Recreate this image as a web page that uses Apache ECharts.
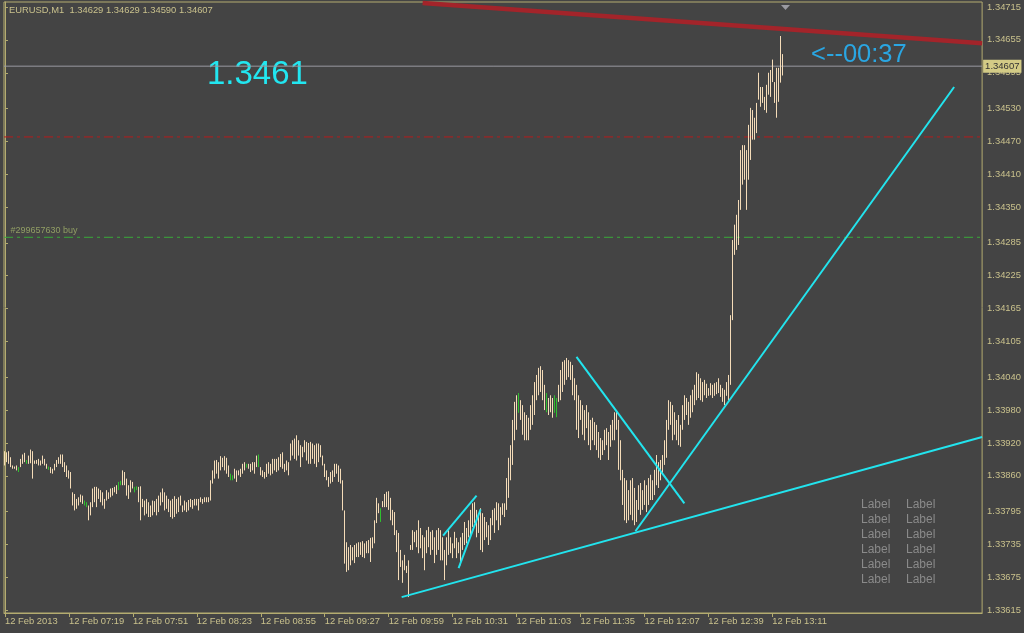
<!DOCTYPE html>
<html>
<head>
<meta charset="utf-8">
<script src="https://cdn.jsdelivr.net/npm/echarts@6/dist/echarts.min.js"></script>
<style>
html,body{margin:0;padding:0;background:#444444;}
#chart{width:1024px;height:633px;}
</style>
</head>
<body>
<div id="chart"></div>
<script>
// ---- data ----
const symbolTitle = 'EURUSD,M1  1.34629 1.34629 1.34590 1.34607';
const xTickIdx = [0, 32, 64, 96, 128, 160, 192, 224, 256, 288, 320, 352, 384];
const xTickLabels = ['12 Feb 2013', '12 Feb 07:19', '12 Feb 07:51', '12 Feb 08:23', '12 Feb 08:55', '12 Feb 09:27', '12 Feb 09:59', '12 Feb 10:31', '12 Feb 11:03', '12 Feb 11:35', '12 Feb 12:07', '12 Feb 12:39', '12 Feb 13:11'];
const yTicks = [1.33615, 1.33675, 1.33735, 1.33795, 1.33860, 1.33920, 1.33980, 1.34040, 1.34105, 1.34165, 1.34225, 1.34285, 1.34350, 1.34410, 1.34470, 1.34530, 1.34595, 1.34655, 1.34715];

const highs = [
1.33905,1.33903,1.33905,1.33894,1.33879,1.33877,1.33879,1.33876,1.33891,1.33899,
1.33902,1.33889,1.33897,1.33908,1.33905,1.33888,1.33889,1.33891,1.33888,1.33897,
1.33891,1.33882,1.33877,1.33876,1.33873,1.33882,1.33889,1.33894,1.33899,1.33899,
1.33885,1.33879,1.33870,1.33867,1.33830,1.33827,1.33818,1.33821,1.33826,1.33824,
1.33815,1.33812,1.33806,1.33812,1.33837,1.33840,1.33840,1.33837,1.33834,1.33830,
1.33818,1.33834,1.33830,1.33837,1.33838,1.33840,1.33843,1.33849,1.33851,1.33870,
1.33867,1.33855,1.33843,1.33852,1.33849,1.33840,1.33841,1.33840,1.33841,1.33818,
1.33815,1.33818,1.33812,1.33806,1.33815,1.33814,1.33818,1.33824,1.33830,1.33837,
1.33830,1.33824,1.33818,1.33815,1.33818,1.33823,1.33818,1.33821,1.33824,1.33806,
1.33815,1.33812,1.33816,1.33818,1.33816,1.33818,1.33818,1.33818,1.33821,1.33818,
1.33821,1.33821,1.33821,1.33852,1.33870,1.33888,1.33889,1.33885,1.33896,1.33893,
1.33896,1.33893,1.33879,1.33864,1.33861,1.33873,1.33870,1.33870,1.33873,1.33882,
1.33885,1.33882,1.33882,1.33882,1.33885,1.33885,1.33897,1.33899,1.33876,1.33870,
1.33867,1.33882,1.33885,1.33882,1.33891,1.33891,1.33891,1.33894,1.33900,1.33903,
1.33882,1.33888,1.33885,1.33919,1.33925,1.33928,1.33934,1.33925,1.33916,1.33913,
1.33925,1.33922,1.33920,1.33922,1.33919,1.33916,1.33919,1.33919,1.33916,1.33897,
1.33882,1.33870,1.33858,1.33867,1.33870,1.33882,1.33882,1.33879,1.33873,1.33852,
1.33797,1.33739,1.33730,1.33734,1.33730,1.33734,1.33737,1.33739,1.33739,1.33741,
1.33737,1.33741,1.33743,1.33747,1.33748,1.33779,1.33820,1.33810,1.33801,1.33814,
1.33827,1.33831,1.33832,1.33820,1.33798,1.33794,1.33761,1.33756,1.33725,1.33706,
1.33716,1.33696,1.33706,1.33734,1.33761,1.33758,1.33761,1.33779,1.33765,1.33752,
1.33748,1.33761,1.33767,1.33758,1.33761,1.33748,1.33761,1.33765,1.33761,1.33748,
1.33725,1.33748,1.33761,1.33748,1.33737,1.33758,1.33747,1.33739,1.33748,1.33756,
1.33776,1.33765,1.33779,1.33798,1.33810,1.33812,1.33798,1.33792,1.33801,1.33792,
1.33785,1.33776,1.33770,1.33783,1.33798,1.33801,1.33812,1.33810,1.33803,1.33810,
1.33810,1.33856,1.33893,1.33916,1.33962,1.33995,1.34007,1.34011,1.33998,1.33989,
1.33976,1.33971,1.33966,1.33989,1.34007,1.34031,1.34044,1.34057,1.34060,1.34053,
1.34026,1.34011,1.34002,1.34007,1.34002,1.34007,1.34002,1.34026,1.34053,1.34068,
1.34071,1.34075,1.34071,1.34068,1.34062,1.34038,1.34026,1.34007,1.33998,1.33989,
1.33980,1.33989,1.33976,1.33962,1.33966,1.33958,1.33953,1.33940,1.33929,1.33925,
1.33944,1.33947,1.33940,1.33953,1.33962,1.33976,1.33980,1.33962,1.33925,1.33871,
1.33856,1.33852,1.33834,1.33852,1.33856,1.33838,1.33816,1.33843,1.33847,1.33834,
1.33852,1.33843,1.33856,1.33862,1.33852,1.33871,1.33898,1.33885,1.33889,1.33898,
1.33925,1.33962,1.33998,1.33995,1.33989,1.33976,1.33962,1.33971,1.33953,1.33989,
1.34007,1.34002,1.33995,1.34007,1.34017,1.34026,1.34049,1.34046,1.34038,1.34031,
1.34035,1.34028,1.34020,1.34029,1.34026,1.34029,1.34031,1.34038,1.34026,1.34020,
1.34017,1.34031,1.34044,1.34153,1.34290,1.34318,1.34336,1.34363,1.34454,1.34463,
1.34463,1.34454,1.34500,1.34531,1.34527,1.34513,1.34540,1.34595,1.34569,1.34569,
1.34551,1.34573,1.34595,1.34600,1.34619,1.34578,1.34604,1.34604,1.34662,1.34629
];
const lows = [
1.33879,1.33885,1.33882,1.33876,1.33873,1.33873,1.33870,1.33867,1.33876,1.33882,
1.33885,1.33882,1.33882,1.33883,1.33855,1.33882,1.33882,1.33879,1.33879,1.33882,
1.33879,1.33873,1.33871,1.33865,1.33864,1.33870,1.33876,1.33882,1.33882,1.33876,
1.33867,1.33858,1.33855,1.33837,1.33806,1.33797,1.33800,1.33806,1.33812,1.33809,
1.33806,1.33803,1.33779,1.33788,1.33803,1.33812,1.33803,1.33818,1.33812,1.33806,
1.33800,1.33815,1.33818,1.33821,1.33824,1.33830,1.33827,1.33834,1.33843,1.33843,
1.33843,1.33824,1.33818,1.33830,1.33837,1.33830,1.33834,1.33812,1.33779,1.33803,
1.33788,1.33791,1.33785,1.33785,1.33788,1.33794,1.33788,1.33794,1.33806,1.33812,
1.33797,1.33800,1.33794,1.33785,1.33782,1.33785,1.33791,1.33794,1.33806,1.33794,
1.33797,1.33794,1.33797,1.33803,1.33800,1.33806,1.33806,1.33797,1.33812,1.33809,
1.33812,1.33812,1.33812,1.33815,1.33846,1.33855,1.33864,1.33855,1.33870,1.33876,
1.33870,1.33864,1.33858,1.33852,1.33852,1.33855,1.33849,1.33861,1.33858,1.33864,
1.33870,1.33875,1.33873,1.33867,1.33870,1.33864,1.33876,1.33876,1.33861,1.33858,
1.33855,1.33858,1.33864,1.33861,1.33864,1.33870,1.33867,1.33870,1.33876,1.33873,
1.33867,1.33870,1.33861,1.33888,1.33897,1.33891,1.33888,1.33897,1.33876,1.33894,
1.33903,1.33888,1.33882,1.33882,1.33891,1.33882,1.33876,1.33885,1.33894,1.33879,
1.33858,1.33852,1.33840,1.33846,1.33849,1.33858,1.33864,1.33849,1.33846,1.33797,
1.33700,1.33685,1.33688,1.33697,1.33706,1.33701,1.33712,1.33712,1.33716,1.33712,
1.33710,1.33719,1.33719,1.33703,1.33728,1.33737,1.33774,1.33792,1.33776,1.33803,
1.33803,1.33803,1.33798,1.33779,1.33770,1.33752,1.33721,1.33670,1.33694,1.33665,
1.33688,1.33683,1.33639,1.33725,1.33725,1.33739,1.33730,1.33719,1.33728,1.33710,
1.33688,1.33719,1.33730,1.33716,1.33725,1.33701,1.33716,1.33725,1.33706,1.33706,
1.33670,1.33697,1.33716,1.33719,1.33710,1.33728,1.33710,1.33719,1.33697,1.33725,
1.33734,1.33737,1.33748,1.33748,1.33767,1.33774,1.33748,1.33756,1.33725,1.33721,
1.33743,1.33748,1.33734,1.33743,1.33770,1.33756,1.33779,1.33761,1.33770,1.33789,
1.33785,1.33798,1.33820,1.33852,1.33880,1.33925,1.33944,1.33975,1.33962,1.33935,
1.33925,1.33925,1.33925,1.33944,1.33953,1.33971,1.33998,1.34007,1.34013,1.33998,
1.33980,1.33976,1.33971,1.33976,1.33966,1.33975,1.33967,1.33995,1.33998,1.34013,
1.34026,1.34035,1.34040,1.34035,1.34007,1.33998,1.33944,1.33929,1.33962,1.33935,
1.33925,1.33947,1.33916,1.33907,1.33925,1.33916,1.33907,1.33893,1.33889,1.33898,
1.33907,1.33916,1.33889,1.33913,1.33925,1.33925,1.33944,1.33871,1.33852,1.33807,
1.33779,1.33774,1.33779,1.33789,1.33779,1.33770,1.33776,1.33798,1.33789,1.33798,
1.33807,1.33794,1.33807,1.33816,1.33816,1.33825,1.33843,1.33838,1.33852,1.33862,
1.33880,1.33893,1.33944,1.33953,1.33925,1.33935,1.33925,1.33916,1.33913,1.33944,
1.33962,1.33971,1.33953,1.33966,1.33976,1.33989,1.33998,1.34002,1.33998,1.33995,
1.34007,1.34002,1.34006,1.34007,1.34002,1.34006,1.34009,1.34011,1.34004,1.33995,
1.33989,1.34006,1.33998,1.34026,1.34144,1.34263,1.34272,1.34281,1.34345,1.34391,
1.34400,1.34345,1.34400,1.34436,1.34473,1.34473,1.34485,1.34546,1.34533,1.34540,
1.34527,1.34522,1.34555,1.34551,1.34578,1.34540,1.34513,1.34542,1.34577,1.34590
];
// bars whose open equals close (drawn in the line-chart colour)
const dojiBars = [7, 11, 22, 40, 41, 57, 58, 65, 66, 113, 114, 121, 127, 188, 257, 271, 275, 276];

const currentPrice = 1.34607;
const orderPrice = 1.34295;
const orderLabel = '#299657630 buy';
const redLevel = 1.34478;
// trend lines: [barIndex, price] pairs
const redTrend = [[209, 1.34722], [489, 1.34649]];
const cyanLines = [
  [[198.5, 1.33639], [489, 1.33931]],
  [[315.5, 1.33759], [475, 1.34569]],
  [[286, 1.34077], [340, 1.33810]],
  [[219.25, 1.33751], [236, 1.33824]],
  [[227, 1.33692], [238, 1.33799]]
];
const bigPriceText = '1.3461';
const timerText = '<--00:37';
const labelGrid = ['Label', 'Label', 'Label', 'Label', 'Label', 'Label'];

// ---- chart ----
const BG = '#444444';
const AXIS = '#b4ac70';
const TXT = '#c9c18c';
const FONT = '"Liberation Sans", Arial, sans-serif';
const BAR_COLOR = '#f5dcb8';
const DOJI_COLOR = '#2fc02f';
const X_MIN = -0.5, X_MAX = 489;
const dojiSet = new Set(dojiBars);

// bars as [index, open, close, low, high]; the bar line runs from low to high
const barData = highs.map((h, i) => {
  const item = {value: [i, h, h, lows[i], h]};
  if (dojiSet.has(i)) {
    item.itemStyle = {color: DOJI_COLOR, color0: DOJI_COLOR, borderColor: DOJI_COLOR, borderColor0: DOJI_COLOR, borderColorDoji: DOJI_COLOR};
  }
  return item;
});

const chart = echarts.init(document.getElementById('chart'), null, {renderer: 'canvas'});

function hLine(price, color, type, extra) {
  return Object.assign({
    type: 'line',
    data: [[X_MIN, price], [X_MAX, price]],
    symbol: 'none',
    silent: true,
    clip: true,
    z: 3,
    emphasis: {disabled: true},
    lineStyle: {color: color, width: 1, type: type}
  }, extra || {});
}

const series = [
  hLine(redLevel, '#b51c1c', [9, 4, 3, 4]),
  hLine(orderPrice, '#3aaa3a', [9, 4, 3, 4]),
  hLine(currentPrice, '#9a9aa2', 'solid', {
    endLabel: {show: true, formatter: currentPrice.toFixed(5), color: '#333333', backgroundColor: '#d3cb86',
      fontSize: 9.5, fontFamily: FONT, padding: [2, 2, 1, 2], distance: 1}
  }),
  {
    type: 'scatter',
    data: [[2.5, orderPrice]],
    symbolSize: 1,
    itemStyle: {color: 'rgba(0,0,0,0)'},
    silent: true,
    z: 3,
    emphasis: {disabled: true},
    label: {show: true, position: 'right', distance: 0, offset: [0, -7], formatter: orderLabel,
      color: '#a4b46c', fontSize: 9, fontFamily: FONT}
  },
  {
    type: 'candlestick',
    data: barData,
    encode: {x: 0, y: [1, 2, 3, 4]},
    barWidth: 1,
    clip: true,
    silent: true,
    large: false,
    progressive: 0,
    z: 4,
    emphasis: {disabled: true},
    itemStyle: {color: BAR_COLOR, color0: BAR_COLOR, borderColor: BAR_COLOR, borderColor0: BAR_COLOR, borderColorDoji: BAR_COLOR, borderWidth: 1}
  },
  {
    type: 'line',
    data: redTrend,
    symbol: 'none',
    clip: true,
    silent: true,
    z: 5,
    emphasis: {disabled: true},
    lineStyle: {color: '#a3242a', width: 4.5}
  }
];
cyanLines.forEach(seg => {
  series.push({
    type: 'line', data: seg, symbol: 'none', clip: true, z: 6, silent: true,
    emphasis: {disabled: true},
    lineStyle: {color: '#22e4ee', width: 2}
  });
});

const graphics = [
  {type: 'text', left: 9, top: 6, style: {text: symbolTitle, fill: TXT, font: '9.4px ' + FONT}},
  {type: 'text', x: 207, y: 75, style: {text: bigPriceText, fill: '#22e6f0', font: '33px ' + FONT, verticalAlign: 'middle'}},
  {type: 'text', x: 811, y: 55, style: {text: timerText, fill: '#2aa6e2', font: '25.5px ' + FONT, verticalAlign: 'middle'}},
  {type: 'polygon', shape: {points: [[781, 5], [790, 5], [785.5, 10]]}, style: {fill: '#9a9aa0'}}
];
labelGrid.forEach((t, r) => {
  graphics.push({type: 'text', x: 861, y: 505 + r * 15, style: {text: t, fill: '#8a8a8a', font: '12px ' + FONT, verticalAlign: 'middle'}});
  graphics.push({type: 'text', x: 906, y: 505 + r * 15, style: {text: t, fill: '#8a8a8a', font: '12px ' + FONT, verticalAlign: 'middle'}});
});

chart.setOption({
  animation: false,
  backgroundColor: BG,
  grid: {left: 4, right: 41, top: 2, bottom: 20, show: true, borderColor: AXIS, borderWidth: 1, backgroundColor: BG},
  xAxis: {
    type: 'value', min: X_MIN, max: X_MAX,
    axisLine: {lineStyle: {color: AXIS}},
    splitLine: {show: false},
    axisTick: {show: true, customValues: xTickIdx, length: 4, lineStyle: {color: AXIS}},
    axisLabel: {customValues: xTickIdx, color: TXT, fontSize: 9.4, fontFamily: FONT, align: 'left', margin: 4,
      formatter: v => xTickLabels[xTickIdx.indexOf(Math.round(v))] || ''}
  },
  yAxis: {
    type: 'value', position: 'right', min: 1.33610, max: 1.34724, scale: true,
    axisLine: {show: true, lineStyle: {color: AXIS}},
    splitLine: {show: false},
    axisTick: {show: true, customValues: yTicks, length: 3, lineStyle: {color: AXIS}},
    axisLabel: {customValues: yTicks, color: TXT, fontSize: 9.4, fontFamily: FONT, margin: 5,
      formatter: v => v.toFixed(5)}
  },
  series: series,
  graphic: graphics
});
</script>
</body>
</html>
